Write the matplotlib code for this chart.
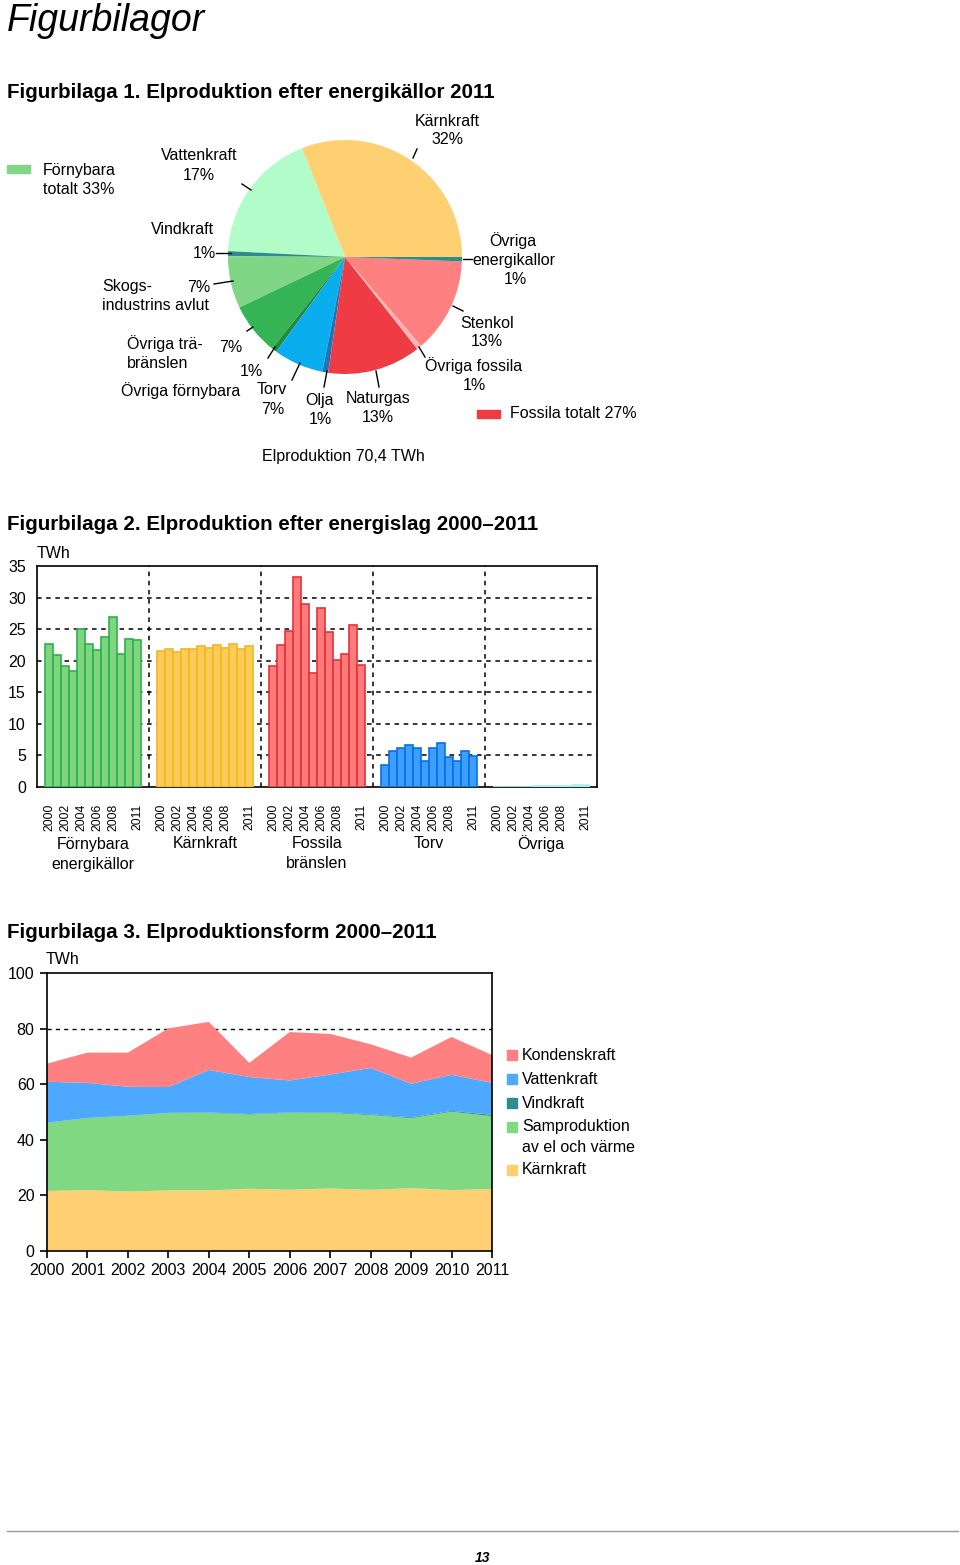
import matplotlib
matplotlib.use("Agg")
from matplotlib import pyplot as plt
from matplotlib.patches import Rectangle
import numpy as np

plt.rcParams['font.family'] = ['Liberation Sans', 'DejaVu Sans']

W, H = 960, 1565

# --- Figurbilaga 1: andelar 2011 (procent, avlästa ur cirkeln) ---
pie_names = ['Kärnkraft', 'Vattenkraft', 'Vindkraft', 'Skogsindustrins avlut',
             'Övriga träbränslen', 'Övriga förnybara', 'Torv', 'Olja', 'Naturgas',
             'Övriga fossila', 'Stenkol', 'Övriga energikällor']
pie_share = [31.0, 18.2, 0.7, 7.2, 7.2, 0.7, 6.9, 0.8, 12.9, 0.7, 13.1, 0.6]
pie_colors = ['#FFD072', '#B2FCCA', '#2E8C8C', '#80D684', '#35B456', '#1E8A3A',
              '#0AAEEE', '#1B75B8', '#EF3B44', '#FFB3B3', '#FF8080', '#2E8C8C']

# --- Figurbilaga 2: TWh per energislag 2000-2011 ---
years = list(range(2000, 2012))
fornybara = [22.6, 20.9, 19.2, 18.4, 25.0, 22.6, 21.7, 23.7, 27.0, 21.1, 23.4, 23.3]
karnkraft = [21.6, 21.9, 21.4, 21.8, 21.8, 22.4, 22.0, 22.5, 22.0, 22.6, 21.9, 22.3]
fossila = [19.2, 22.5, 24.7, 33.2, 29.0, 18.1, 28.4, 24.5, 20.1, 21.1, 25.7, 19.3]
torv = [3.5, 5.7, 6.1, 6.7, 6.1, 4.1, 6.1, 6.9, 4.8, 4.1, 5.7, 4.9]
ovriga = [0.0, 0.0, 0.0, 0.0, 0.0, 0.2, 0.2, 0.2, 0.2, 0.2, 0.3, 0.3]
group_names = ['Förnybara\nenergikällor', 'Kärnkraft', 'Fossila\nbränslen', 'Torv', 'Övriga']

# --- Figurbilaga 3: produktionsform 2000-2011 ---
samproduktion = [24.5, 25.9, 27.2, 27.8, 27.9, 26.7, 27.7, 27.2, 26.9, 25.2, 28.2, 26.2]
vindkraft = [0.08, 0.07, 0.06, 0.09, 0.12, 0.17, 0.15, 0.19, 0.26, 0.28, 0.29, 0.48]
vattenkraft = [14.7, 12.6, 10.4, 9.3, 15.3, 13.3, 11.5, 13.6, 16.7, 12.1, 13.0, 11.5]
kondenskraft = [6.5, 10.9, 12.3, 21.1, 17.3, 5.1, 17.4, 14.6, 8.5, 9.4, 13.6, 10.0]


def box(x0, y0, x1, y1):
    # pixelbox (uppifrån) -> figurkoordinater
    return [x0 / W, 1 - y1 / H, (x1 - x0) / W, (y1 - y0) / H]


fig = plt.figure(figsize=(9.6, 15.65), dpi=100)

# --- cirkeldiagram ---
ax1 = fig.add_axes(box(228, 140, 462, 374))
ax1.pie(pie_share, colors=pie_colors, startangle=0, counterclock=True,
        radius=1.0, wedgeprops=dict(linewidth=0))
ax1.set_xlim(-1, 1)
ax1.set_ylim(-1, 1)
ax1.set_aspect('equal')
ax1.axis('off')

# --- stapeldiagram ---
ax2 = fig.add_axes(box(37, 566, 597, 787))
series = [fornybara, karnkraft, fossila, torv, ovriga]
faces = ['#7FD580', '#FFCC55', '#FF7B7B', '#3C9EFF', '#A8F0F0']
edges = ['#2DB24A', '#F2B52A', '#E63139', '#0A6FE0', '#A8F0F0']
tick_pos, tick_lab = [], []
for g, vals in enumerate(series):
    xs = g * 14 + 1.5 + np.arange(len(years))
    ax2.bar(xs, vals, width=1.0, color=faces[g], edgecolor=edges[g],
            linewidth=1.2, zorder=3)
    for i in [0, 2, 4, 6, 8, 11]:
        tick_pos.append(xs[i])
        tick_lab.append(str(years[i]))
    if g > 0:
        ax2.axvline(g * 14, color='black', lw=1.1, ls=(0, (3, 3)), zorder=1)
ax2.set_xlim(0, 70)
ax2.set_ylim(0, 35)
ax2.set_yticks(range(0, 36, 5))
ax2.set_xticks(tick_pos)
ax2.set_xticklabels(tick_lab, rotation=90)
for y in range(5, 35, 5):
    ax2.axhline(y, color='black', lw=1.1, ls=(0, (3, 3)), zorder=1)
ax2.tick_params(axis='both', length=0, labelsize=11.5)
ax2.tick_params(axis='x', pad=12, labelsize=8.7)
ax2.tick_params(axis='y', pad=8)
for s in ax2.spines.values():
    s.set_linewidth(1.2)

# --- ytdiagram ---
ax3 = fig.add_axes(box(47, 973, 492, 1251))
ax3.stackplot(years, karnkraft, samproduktion, vindkraft, vattenkraft, kondenskraft,
              colors=['#FFD072', '#80D882', '#2E8C8C', '#4DA8FF', '#FF8080'],
              linewidth=0, zorder=2)
ax3.set_xlim(2000, 2011)
ax3.set_ylim(0, 100)
ax3.set_xticks(years)
ax3.set_yticks(range(0, 101, 20))
ax3.axhline(80, color='black', lw=1.0, ls=(0, (3, 3)), zorder=1)
ax3.tick_params(axis='both', direction='out', length=5, width=1.2, labelsize=11.5)
ax3.tick_params(axis='y', pad=4)
for s in ax3.spines.values():
    s.set_linewidth(1.2)

# --- text och detaljer i pixelkoordinater ---
ov = fig.add_axes([0, 0, 1, 1], zorder=10)
ov.set_xlim(0, W)
ov.set_ylim(H, 0)
ov.axis('off')

ov.text(7, 21, 'Figurbilagor', fontsize=27, style='italic', va='center', ha='left')
heads = [('Figurbilaga 1. Elproduktion efter energikällor 2011', 93),
         ('Figurbilaga 2. Elproduktion efter energislag 2000–2011', 525),
         ('Figurbilaga 3. Elproduktionsform 2000–2011', 933)]
for t, y in heads:
    ov.text(7, y, t, fontsize=14.8, fontweight='bold', va='center', ha='left')

labels = [('Kärnkraft', 447, 121, 'center'), ('32%', 447, 140, 'center'),
          ('Vattenkraft', 199, 156, 'center'), ('17%', 199, 175, 'center'),
          ('Vindkraft', 182, 229, 'center'), ('1%', 204, 253, 'center'),
          ('Skogs-', 102, 287, 'left'), ('7%', 199, 287, 'center'),
          ('industrins avlut', 102, 305, 'left'),
          ('Övriga trä-', 127, 344, 'left'), ('bränslen', 127, 364, 'left'),
          ('7%', 231, 347, 'center'), ('1%', 251, 371, 'center'),
          ('Övriga förnybara', 121, 391, 'left'),
          ('Torv', 272, 390, 'center'), ('7%', 273, 409, 'center'),
          ('Olja', 320, 401, 'center'), ('1%', 320, 420, 'center'),
          ('Naturgas', 378, 399, 'center'), ('13%', 378, 418, 'center'),
          ('Övriga', 513, 241, 'center'), ('energikallor', 514, 260, 'center'),
          ('1%', 515, 279, 'center'),
          ('Stenkol', 487, 323, 'center'), ('13%', 487, 341, 'center'),
          ('Övriga fossila', 474, 366, 'center'), ('1%', 474, 385, 'center'),
          ('Förnybara', 43, 171, 'left'), ('totalt 33%', 43, 190, 'left'),
          ('Fossila totalt 27%', 510, 414, 'left'),
          ('Elproduktion 70,4 TWh', 343, 456, 'center')]
for t, x, y, ha in labels:
    ov.text(x, y, t, fontsize=11.5, ha=ha, va='center')

leaders = [((417, 149), (413, 158)), ((242, 184), (251, 190)), ((216, 253), (231, 253)),
           ((214, 284), (233, 281)), ((247, 331), (253, 327)), ((268, 358), (275, 347)),
           ((292, 380), (300, 363)), ((324, 387), (327, 371)), ((379, 387), (376, 371)),
           ((425, 357), (419, 347)), ((463, 311), (453, 306)), ((463, 259), (472, 259))]
for (xa, ya), (xb, yb) in leaders:
    ov.plot([xa, xb], [ya, yb], color='black', lw=1.0)

ov.add_patch(Rectangle((7, 165), 23, 8, color='#80D684'))
ov.add_patch(Rectangle((477, 410), 23, 8, color='#EF3B44'))

# stapeldiagram: enhet och gruppnamn
ov.text(37, 553, 'TWh', fontsize=11.5, ha='left', va='center')
for g, name in enumerate(group_names):
    for k, ln in enumerate(name.split('\n')):
        ov.text(37 + (g * 14 + 7) * 8, 844 + 20 * k, ln, fontsize=11.5,
                ha='center', va='center')

# ytdiagram: enhet och förklaring
ov.text(46, 960, 'TWh', fontsize=11.5, ha='left', va='center')
legend = [('Kondenskraft', '#FF8080', 1055), ('Vattenkraft', '#4DA8FF', 1079),
          ('Vindkraft', '#2E8C8C', 1103), ('Samproduktion', '#80D882', 1127),
          ('Kärnkraft', '#FFD072', 1170)]
for t, c, y in legend:
    ov.add_patch(Rectangle((507, y - 5), 10, 10, color=c))
    ov.text(522, y, t, fontsize=11.5, ha='left', va='center')
ov.text(522, 1147, 'av el och värme', fontsize=11.5, ha='left', va='center')

# sidfot
ov.plot([7, 958], [1531, 1531], color='#999999', lw=1.0)
ov.text(483, 1558, '13', fontsize=10, style='italic', fontweight='bold',
        ha='center', va='center')

fig.savefig('out.png', dpi=100)
